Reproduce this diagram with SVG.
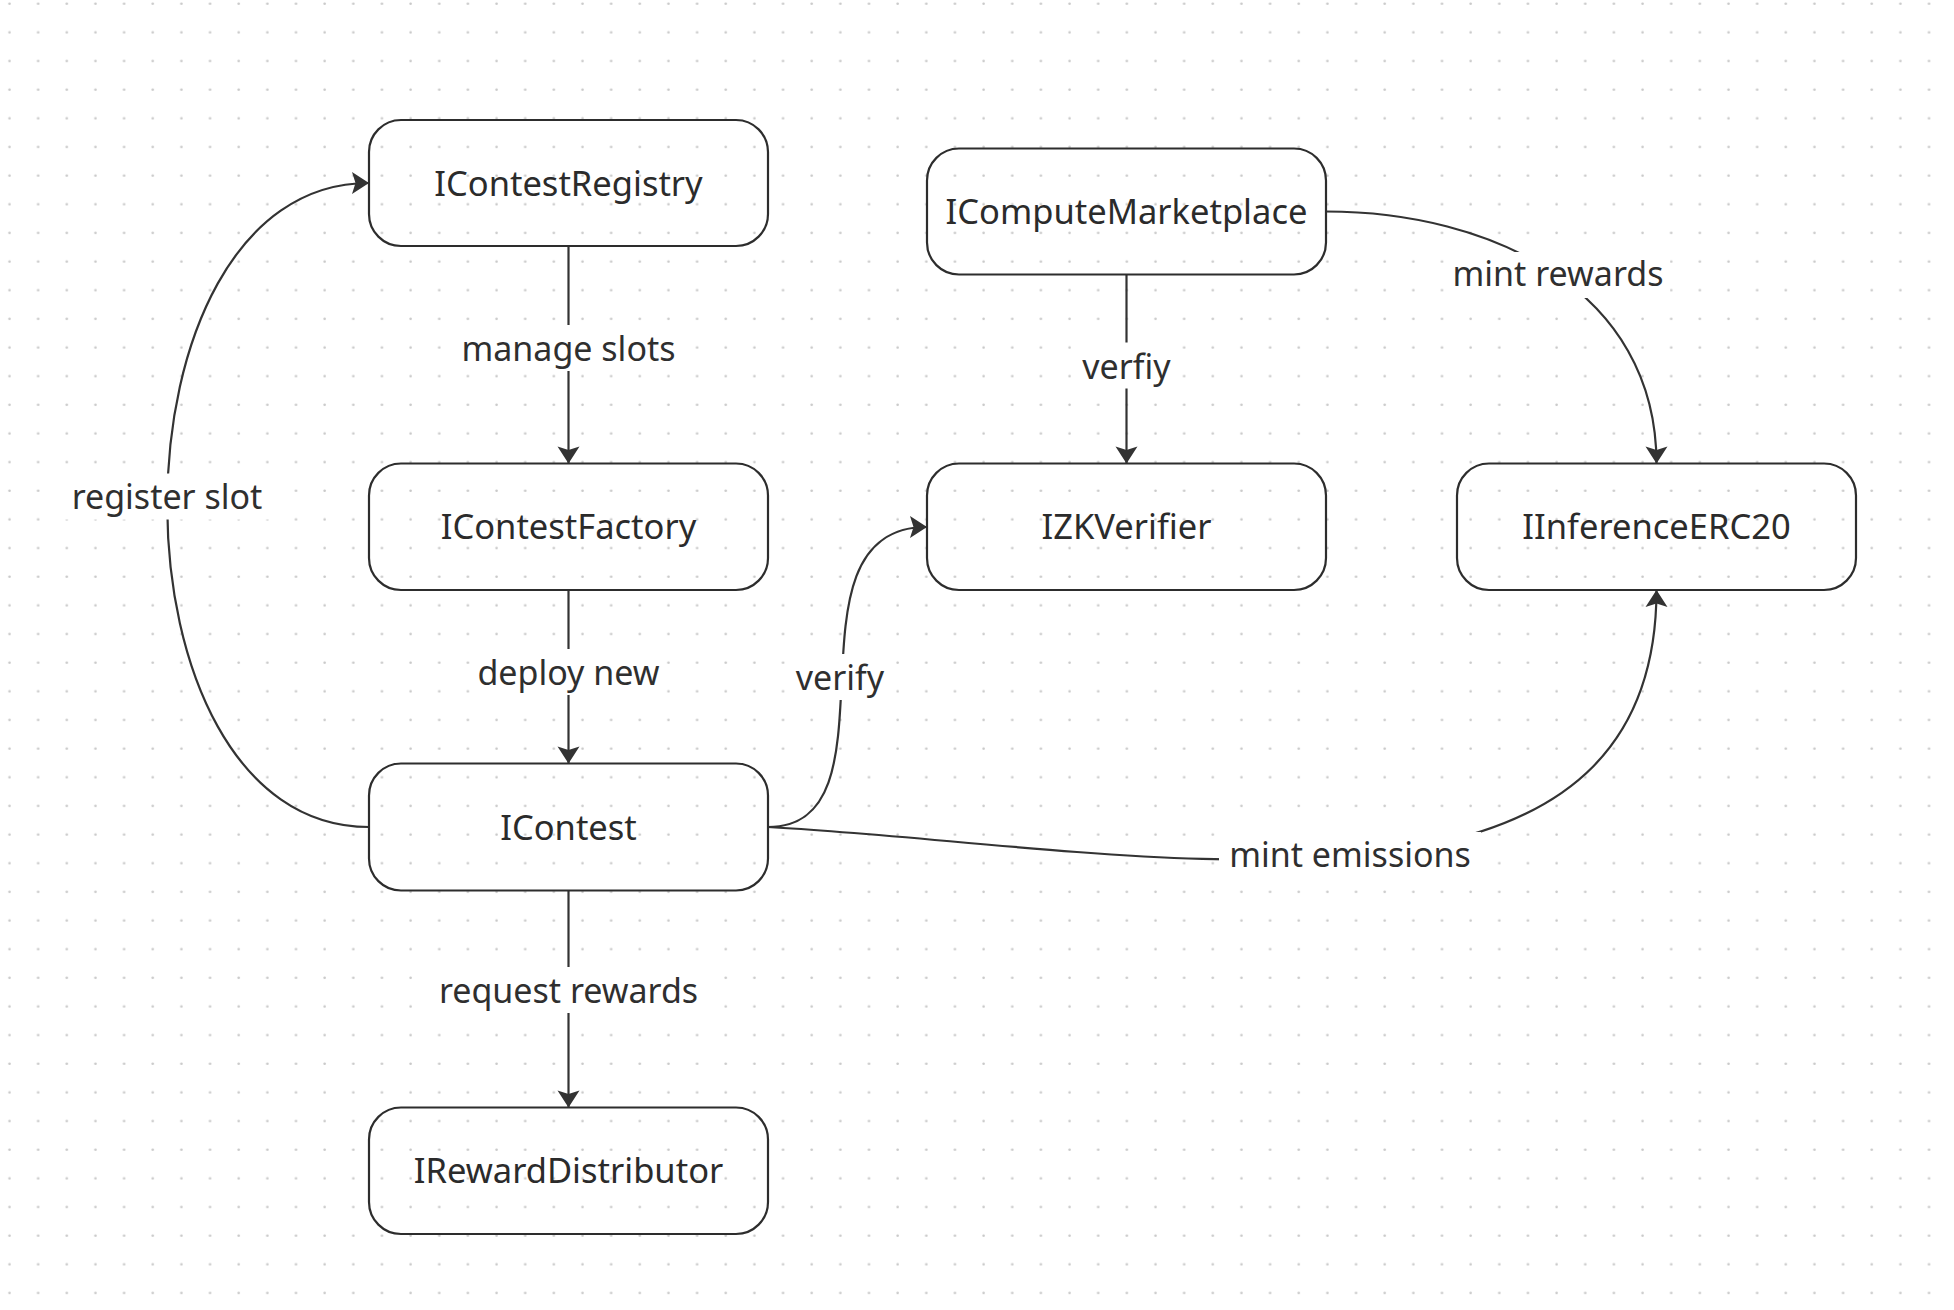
<svg xmlns="http://www.w3.org/2000/svg" width="1954" height="1310" viewBox="0 0 1954 1310">
  <defs>
    <pattern id="dots" x="0" y="0" width="28.65" height="28.65" patternUnits="userSpaceOnUse">
      <circle cx="9.5" cy="3.7" r="1.3" fill="#c9c9c9"/>
    </pattern>
    <marker id="arrow" viewBox="-1 -12 20 24" markerWidth="20" markerHeight="24" refX="17" refY="0" orient="auto" markerUnits="userSpaceOnUse">
      <path d="M0,-11 L17,0 L0,11 L3.5,0 Z" fill="#333333"/>
    </marker>
    <style>
      .node rect { fill: none; stroke: #2d2d2d; stroke-width: 2.2; }
      .node text { font-family: "Noto Sans", "Open Sans", sans-serif; font-size: 34.5px; fill: #2b2b2b; text-anchor: middle; }
      .edge { fill: none; stroke: #333333; stroke-width: 2.2; marker-end: url(#arrow); }
      .lbg { fill: #ffffff; stroke: none; }
      .lbl { font-family: "Noto Sans", "Open Sans", sans-serif; font-size: 34px; fill: #2f2f2f; text-anchor: middle; }
    </style>
  </defs>

  <rect x="0" y="0" width="1954" height="1310" fill="#ffffff"/>
  <rect x="0" y="0" width="1954" height="1310" fill="url(#dots)"/>

  <g id="connectors">
    <path class="edge" d="M568.5,246 L568.5,463.5"/>
    <path class="edge" d="M568.5,590 L568.5,763.5"/>
    <path class="edge" d="M568.5,890.5 L568.5,1107.5"/>
    <path class="edge" d="M1126.5,274.5 L1126.5,463.5"/>
    <path class="edge" d="M369,827 C100,827 100,183 369,183"/>
    <path class="edge" d="M768,827 C905,827 775,527 927,527"/>
    <path class="edge" d="M1326,211.5 C1491,211.5 1656.5,290 1656.5,463.5"/>
    <path class="edge" d="M768,827 C1136,847 1656.5,963 1656.5,590"/>

    <g id="edge-labels">
      <rect class="lbg" x="457" y="325" width="223" height="46"/>
      <text class="lbl" x="568.5" y="361">manage slots</text>
      <rect class="lbg" x="473" y="649" width="191" height="46"/>
      <text class="lbl" x="568.5" y="685">deploy new</text>
      <rect class="lbg" x="433" y="967" width="271" height="46"/>
      <text class="lbl" x="568.5" y="1003">request rewards</text>
      <rect class="lbg" x="62" y="473.5" width="210" height="46"/>
      <text class="lbl" x="167" y="509">register slot</text>
      <rect class="lbg" x="1078" y="342.5" width="97" height="46"/>
      <text class="lbl" x="1126.5" y="378.5">verfiy</text>
      <rect class="lbg" x="791" y="654" width="98" height="46"/>
      <text class="lbl" x="840" y="690">verify</text>
      <rect class="lbg" x="1446" y="252" width="224" height="46"/>
      <text class="lbl" x="1558" y="285.5">mint rewards</text>
      <rect class="lbg" x="1219" y="832" width="262" height="46"/>
      <text class="lbl" x="1350" y="866.5">mint emissions</text>
    </g>
  </g>

  <g id="IContestRegistry" class="node">
    <rect x="369" y="120" width="399" height="126" rx="32" ry="32"/>
    <text x="568.5" y="195.5">IContestRegistry</text>
  </g>
  <g id="IComputeMarketplace" class="node">
    <rect x="927" y="148.5" width="399" height="126" rx="32" ry="32"/>
    <text x="1126.5" y="224.3">IComputeMarketplace</text>
  </g>
  <g id="IContestFactory" class="node">
    <rect x="369" y="463.5" width="399" height="126.5" rx="32" ry="32"/>
    <text x="568.5" y="539.3">IContestFactory</text>
  </g>
  <g id="IZKVerifier" class="node">
    <rect x="927" y="463.5" width="399" height="126.5" rx="32" ry="32"/>
    <text x="1126.5" y="539.3">IZKVerifier</text>
  </g>
  <g id="IInferenceERC20" class="node">
    <rect x="1457" y="463.5" width="399" height="126.5" rx="32" ry="32"/>
    <text x="1656.5" y="539.3">IInferenceERC20</text>
  </g>
  <g id="IContest" class="node">
    <rect x="369" y="763.5" width="399" height="127" rx="32" ry="32"/>
    <text x="568.5" y="839.5">IContest</text>
  </g>
  <g id="IRewardDistributor" class="node">
    <rect x="369" y="1107.5" width="399" height="126.5" rx="32" ry="32"/>
    <text x="568.5" y="1183.3">IRewardDistributor</text>
  </g>
</svg>
